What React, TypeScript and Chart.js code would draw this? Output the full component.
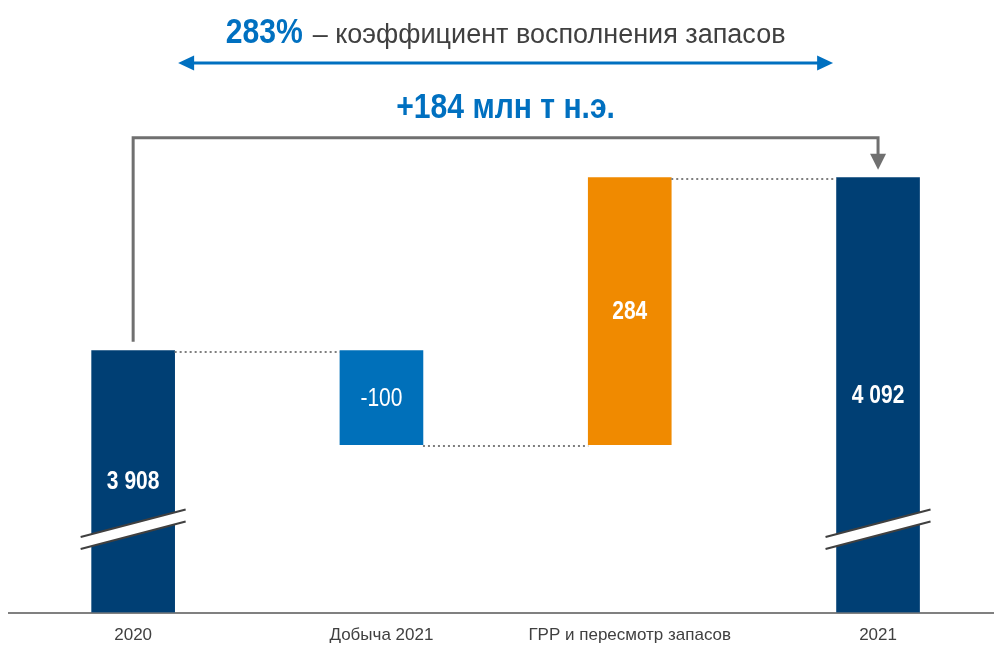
import React, { useEffect, useRef } from "react";
import { Chart, registerables } from "chart.js";

Chart.register(...registerables);

const categories = ["2020", "Добыча 2021", "ГРР и пересмотр запасов", "2021"];
const startValue = 3908;
const deltas = [-100, 284];
const endValue = 4092;
const valueLabels = ["3 908", "-100", "284", "4 092"];
const barColors = ["#003F74", "#0070BA", "#F08A00", "#003F74"];
const labelBold = [true, false, true, true];
const hasBreak = [true, false, false, true];

const AXIS_MIN = 3629.5;
const AXIS_MAX = 4281;
const BREAK_VALUE = 3718;

const titleStrong = "283%";
const titleRest = "– коэффициент восполнения запасов";
const deltaTitle = "+184 млн т н.э.";

const FONT = '"Liberation Sans", Arial, sans-serif';
const NARROW_SCALE = 0.86;

function buildRanges(): [number, number][] {
  const r: [number, number][] = [];
  r.push([AXIS_MIN, startValue]);
  let cur = startValue;
  for (const d of deltas) {
    const next = cur + d;
    r.push([Math.min(cur, next), Math.max(cur, next)]);
    cur = next;
  }
  r.push([AXIS_MIN, endValue]);
  return r;
}

const ranges = buildRanges();
const levels: number[] = (() => {
  const l = [startValue];
  let cur = startValue;
  for (const d of deltas) {
    cur += d;
    l.push(cur);
  }
  return l;
})();

function narrowText(ctx: CanvasRenderingContext2D, text: string, x: number, y: number, scale: number) {
  ctx.save();
  ctx.translate(x, y);
  ctx.scale(scale, 1);
  ctx.fillText(text, 0, 0);
  ctx.restore();
}

const overlay = {
  id: "overlay",
  afterDatasetsDraw(chart: any) {
    const { ctx } = chart;
    const xs = chart.scales.x;
    const ys = chart.scales.y;
    const bars = chart.getDatasetMeta(0).data;
    ctx.save();

    // dotted connectors
    ctx.strokeStyle = "#7F7F7F";
    ctx.lineWidth = 2;
    ctx.setLineDash([2, 3]);
    for (let i = 0; i < bars.length - 1; i++) {
      const a = bars[i];
      const b = bars[i + 1];
      const yy = Math.round(ys.getPixelForValue(levels[i])) + 1;
      ctx.beginPath();
      ctx.moveTo(a.x + a.width / 2, yy);
      ctx.lineTo(b.x - b.width / 2, yy);
      ctx.stroke();
    }
    ctx.setLineDash([]);

    // break marks
    bars.forEach((bar: any, i: number) => {
      if (!hasBreak[i]) return;
      const cy = ys.getPixelForValue(BREAK_VALUE);
      const half = bar.width / 2 + 11;
      const slope = -0.262;
      const gap = 6;
      const x0 = bar.x - half;
      const x1 = bar.x + half;
      const y0 = cy - slope * half;
      const y1 = cy + slope * half;
      ctx.fillStyle = "#ffffff";
      ctx.beginPath();
      ctx.moveTo(x0, y0 - gap);
      ctx.lineTo(x1, y1 - gap);
      ctx.lineTo(x1, y1 + gap);
      ctx.lineTo(x0, y0 + gap);
      ctx.closePath();
      ctx.fill();
      ctx.strokeStyle = "#404040";
      ctx.lineWidth = 2;
      ctx.beginPath();
      ctx.moveTo(x0, y0 - gap);
      ctx.lineTo(x1, y1 - gap);
      ctx.moveTo(x0, y0 + gap);
      ctx.lineTo(x1, y1 + gap);
      ctx.stroke();
    });

    // value labels
    ctx.fillStyle = "#ffffff";
    ctx.textAlign = "center";
    ctx.textBaseline = "middle";
    bars.forEach((bar: any, i: number) => {
      const top = Math.min(bar.y, bar.base);
      const bottom = Math.max(bar.y, bar.base);
      ctx.font = (labelBold[i] ? "bold " : "") + "25px " + FONT;
      narrowText(ctx, valueLabels[i], bar.x, (top + bottom) / 2 + 1, 0.84);
    });

    // gray connector from first to last bar
    const first = bars[0];
    const last = bars[bars.length - 1];
    const firstTop = Math.min(first.y, first.base);
    const lastTop = Math.min(last.y, last.base);
    const lineY = lastTop - 40;
    ctx.strokeStyle = "#707070";
    ctx.fillStyle = "#707070";
    ctx.lineWidth = 3;
    ctx.beginPath();
    ctx.moveTo(first.x, firstTop - 9);
    ctx.lineTo(first.x, lineY);
    ctx.lineTo(last.x, lineY);
    ctx.lineTo(last.x, lastTop - 22);
    ctx.stroke();
    ctx.beginPath();
    ctx.moveTo(last.x - 8, lastTop - 24);
    ctx.lineTo(last.x + 8, lastTop - 24);
    ctx.lineTo(last.x, lastTop - 8);
    ctx.closePath();
    ctx.fill();

    // titles
    const cx = xs.getPixelForValue(1.5);
    ctx.textBaseline = "alphabetic";
    ctx.textAlign = "left";
    ctx.font = "bold 35px " + FONT;
    const w1 = ctx.measureText(titleStrong).width * NARROW_SCALE;
    ctx.font = "27px " + FONT;
    const w2 = ctx.measureText(titleRest).width;
    const gapT = 10;
    const startX = cx - (w1 + gapT + w2) / 2;
    ctx.font = "bold 35px " + FONT;
    ctx.fillStyle = "#0070C0";
    narrowText(ctx, titleStrong, startX, 43, NARROW_SCALE);
    ctx.font = "27px " + FONT;
    ctx.fillStyle = "#404040";
    ctx.fillText(titleRest, startX + w1 + gapT, 43);

    // blue double arrow
    const ay = 63;
    const halfLen = 327.5;
    const ax0 = cx - halfLen;
    const ax1 = cx + halfLen;
    ctx.strokeStyle = "#0070C0";
    ctx.fillStyle = "#0070C0";
    ctx.lineWidth = 3;
    ctx.beginPath();
    ctx.moveTo(ax0 + 10, ay);
    ctx.lineTo(ax1 - 10, ay);
    ctx.stroke();
    ctx.beginPath();
    ctx.moveTo(ax0, ay);
    ctx.lineTo(ax0 + 16, ay - 7.5);
    ctx.lineTo(ax0 + 16, ay + 7.5);
    ctx.closePath();
    ctx.fill();
    ctx.beginPath();
    ctx.moveTo(ax1, ay);
    ctx.lineTo(ax1 - 16, ay - 7.5);
    ctx.lineTo(ax1 - 16, ay + 7.5);
    ctx.closePath();
    ctx.fill();

    // delta title
    ctx.textAlign = "center";
    ctx.font = "bold 35px " + FONT;
    ctx.fillStyle = "#0070C0";
    narrowText(ctx, deltaTitle, cx, 118, NARROW_SCALE);

    ctx.restore();
  },
};

export default function App() {
  const ref = useRef<HTMLCanvasElement | null>(null);
  useEffect(() => {
    document.body.style.margin = "0";
    document.body.style.overflow = "hidden";
    if (!ref.current) return;
    const chart = new Chart(ref.current, {
      type: "bar",
      data: {
        datasets: [
          {
            data: ranges.map((r, i) => ({ x: i, y: r })) as any,
            backgroundColor: barColors,
            borderWidth: 0,
            barThickness: 83,
          },
        ],
      },
      options: {
        animation: false,
        responsive: false,
        layout: { padding: { left: 9, right: 0, top: 0, bottom: 0 } },
        plugins: { legend: { display: false }, tooltip: { enabled: false }, title: { display: false } },
        scales: {
          x: {
            type: "linear",
            offset: false,
            min: -0.5,
            max: 3.467,
            grid: { display: false, drawTicks: false, offset: false },
            border: { display: true, color: "#808080", width: 2 },
            afterBuildTicks: (scale: any) => {
              scale.ticks = categories.map((_, i) => ({ value: i }));
            },
            afterFit: (scale: any) => {
              scale.height = 33.5;
            },
            ticks: {
              autoSkip: false,
              maxRotation: 0,
              padding: 13,
              color: "#404040",
              font: { family: FONT, size: 17 },
              callback: (v: any) => categories[v] ?? "",
            },
          },
          y: {
            display: false,
            min: AXIS_MIN,
            max: AXIS_MAX,
          },
        },
      },
      plugins: [overlay],
    });
    return () => chart.destroy();
  }, []);
  return <canvas ref={ref} width={994} height={646} style={{ display: "block" }} />;
}
